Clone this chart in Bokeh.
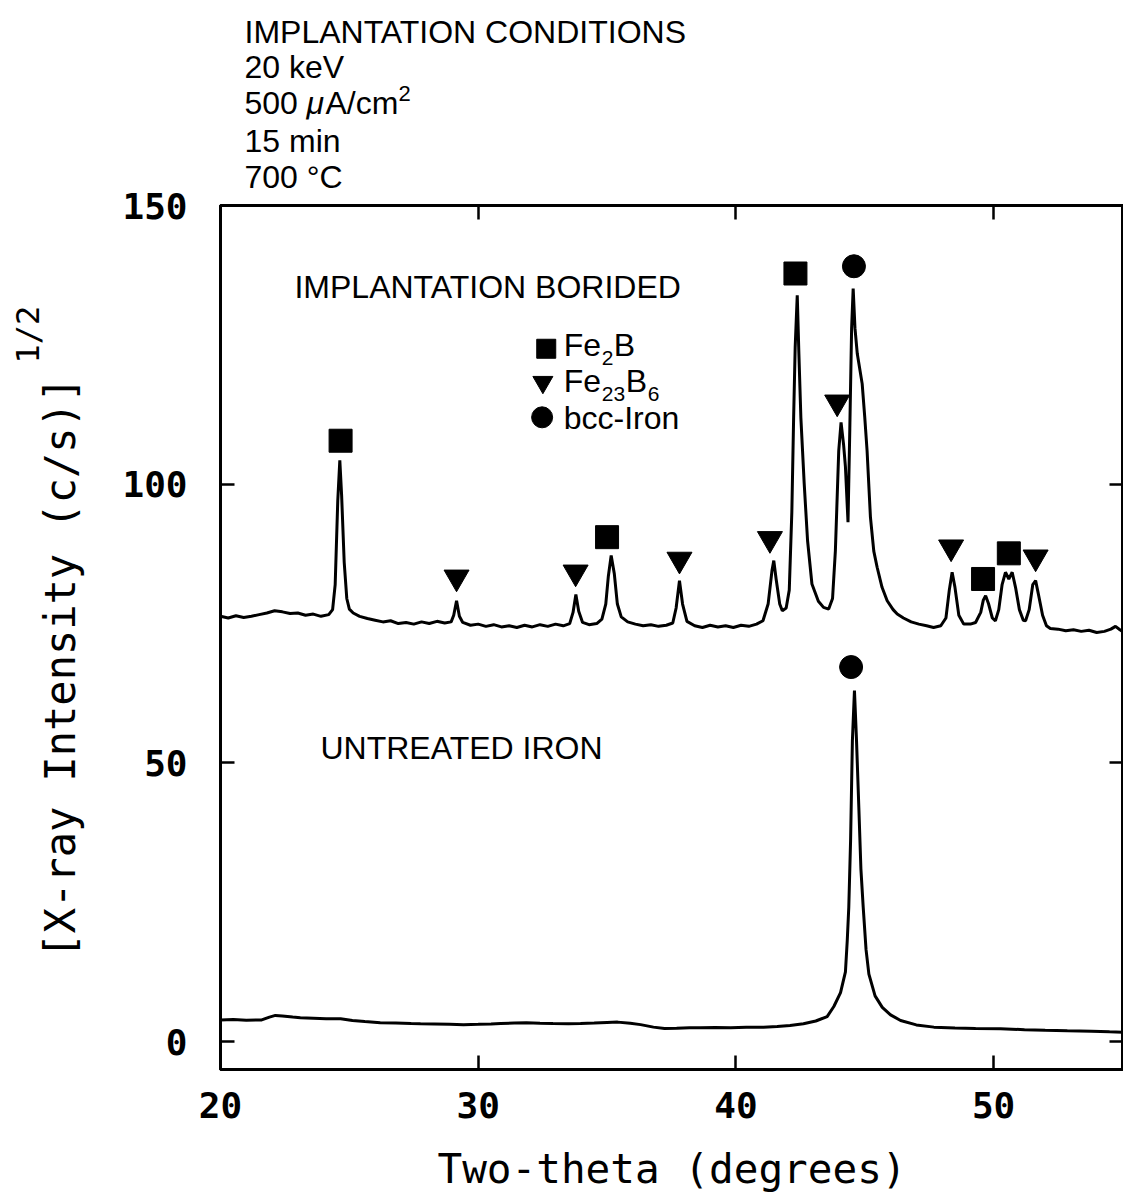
import math
from bokeh.plotting import figure
from bokeh.models import LinearAxis, FixedTicker, Label, Range1d
from bokeh.layouts import column, row
from bokeh.embed import file_html
from bokeh.resources import INLINE

# --- diffraction traces (two-theta in degrees, sqrt intensity) ---
borided_x = [20.0, 20.3, 20.6, 20.9, 21.2, 21.5, 21.8, 22.1, 22.4, 22.7, 23.0, 23.3, 23.6, 23.9, 24.2,
             24.35, 24.45, 24.55, 24.63, 24.7, 24.8, 24.9, 25.0, 25.15, 25.4, 25.7, 26.0, 26.3, 26.6,
             26.9, 27.2, 27.5, 27.8, 28.1, 28.4, 28.7, 28.95, 29.05, 29.16, 29.27, 29.4, 29.7, 30.0,
             30.3, 30.6, 30.9, 31.2, 31.5, 31.8, 32.1, 32.4, 32.7, 33.0, 33.3, 33.55, 33.68, 33.79,
             33.9, 34.05, 34.3, 34.6, 34.8, 34.95, 35.05, 35.16, 35.28, 35.4, 35.55, 35.8, 36.1, 36.4,
             36.7, 37.0, 37.3, 37.55, 37.68, 37.81, 37.93, 38.1, 38.4, 38.7, 39.0, 39.3, 39.6, 39.9,
             40.2, 40.5, 40.8, 41.05, 41.25, 41.4, 41.47, 41.56, 41.7, 41.8, 41.95, 42.07, 42.17,
             42.24, 42.3, 42.38, 42.44, 42.52, 42.65, 42.78, 42.95, 43.2, 43.4, 43.6, 43.75, 43.86,
             43.99, 44.08, 44.18, 44.25, 44.35, 44.42, 44.49, 44.55, 44.62, 44.71, 44.9, 45.0, 45.09,
             45.22, 45.35, 45.48, 45.67, 45.87, 46.1, 46.26, 46.5, 46.8, 47.1, 47.4, 47.67, 47.95,
             48.15, 48.28, 48.39, 48.5, 48.65, 48.84, 49.1, 49.3, 49.5, 49.6, 49.69, 49.8, 49.95,
             50.07, 50.2, 50.33, 50.46, 50.59, 50.72, 50.85, 51.0, 51.15, 51.24, 51.38, 51.52, 51.63,
             51.75, 51.9, 52.05, 52.2, 52.5, 52.8, 53.1, 53.4, 53.7, 54.0, 54.3, 54.55, 54.73, 54.9, 55.0]
borided_y = [76.3, 76.0, 76.4, 76.1, 76.3, 76.6, 76.9, 77.3, 77.1, 76.8, 76.9, 76.5, 76.7, 76.3, 76.6,
             77.5, 82.0, 97.0, 104.3, 98.0, 86.0, 79.5, 77.6, 76.9, 76.3, 75.9, 75.6, 75.3, 75.5,
             75.0, 75.2, 74.9, 75.3, 75.0, 75.4, 75.1, 75.3, 76.5, 79.1, 76.3, 75.2, 74.7, 74.9,
             74.5, 74.8, 74.4, 74.6, 74.3, 74.7, 74.4, 74.8, 74.5, 74.9, 74.6, 75.0, 77.0, 80.2,
             77.2, 75.2, 74.8, 75.0, 75.8, 78.5, 83.5, 87.2, 84.0, 78.5, 76.2, 75.3, 74.9, 74.6,
             74.8, 74.5, 74.7, 75.1, 77.8, 82.7, 78.5, 75.4, 74.6, 74.3, 74.7, 74.4, 74.6, 74.3,
             74.7, 74.5, 74.9, 75.5, 78.5, 84.5, 86.3, 83.0, 78.5, 77.3, 77.8, 81.0, 95.0,
             112.0, 124.6, 133.9, 124.0, 112.0, 100.1, 89.9, 82.1, 79.0, 77.9, 77.6, 79.5, 88.1,
             106.0, 111.1, 107.0, 103.1, 93.2, 110.0, 128.0, 135.1, 128.0, 123.4, 118.0, 112.0, 106.0,
             94.1, 88.0, 85.1, 81.5, 79.1, 77.5, 76.7, 76.0, 75.3, 74.9, 74.6, 74.3, 74.6,
             76.0, 81.0, 84.2, 81.5, 76.5, 74.9, 74.9, 75.2, 77.0, 79.2, 80.0, 78.6, 76.0,
             75.5, 77.5, 82.0, 84.2, 83.0, 84.2, 81.5, 77.5, 75.6, 75.5, 77.5, 82.0, 82.7,
             80.0, 76.5, 74.6, 74.1, 74.0, 73.7, 73.9, 73.6, 73.8, 73.4, 73.6, 74.0, 74.5, 73.9, 73.6]

untreated_x = [20.0, 20.5, 21.0, 21.6, 21.9, 22.13, 22.4, 22.8, 23.1, 23.6, 24.1, 24.66, 25.12, 25.6,
               26.2, 26.8, 27.4, 27.76, 28.3, 28.9, 29.43, 30.0, 30.5, 30.87, 31.4, 31.87, 32.4, 32.9,
               33.5, 33.97, 34.5, 35.0, 35.41, 35.9, 36.3, 36.8, 37.23, 37.7, 38.2, 38.63, 39.2, 39.8,
               40.4, 41.07, 41.6, 42.1, 42.62, 43.1, 43.54, 43.8, 44.06, 44.25, 44.32, 44.38, 44.45,
               44.52, 44.6, 44.68, 44.77, 44.85, 44.94, 45.05, 45.16, 45.4, 45.68, 46.0, 46.39, 47.0,
               47.68, 48.5, 49.3, 50.27, 51.2, 52.0, 52.86, 53.8, 54.5, 55.0]
untreated_y = [3.9, 3.95, 3.85, 3.9, 4.4, 4.7, 4.6, 4.4, 4.3, 4.2, 4.1, 4.1, 3.8, 3.6,
               3.4, 3.35, 3.25, 3.2, 3.15, 3.1, 3.05, 3.1, 3.15, 3.25, 3.35, 3.4, 3.3, 3.25,
               3.2, 3.25, 3.35, 3.45, 3.5, 3.3, 3.05, 2.6, 2.35, 2.4, 2.5, 2.5, 2.55, 2.5,
               2.6, 2.6, 2.7, 2.9, 3.2, 3.7, 4.5, 6.3, 8.8, 12.5, 18.1, 24.1, 36.1,
               54.0, 63.0, 54.0, 42.0, 31.0, 24.1, 16.5, 12.1, 8.2, 6.15, 4.8, 3.8, 3.0,
               2.6, 2.45, 2.35, 2.3, 2.15, 2.05, 1.95, 1.85, 1.75, 1.7]

# --- phase identification markers above the reflections ---
fe2b_x = [24.66, 35.0, 42.31, 49.59, 50.59]
fe2b_y = [107.8, 90.5, 137.8, 83.0, 87.6]
fe23b6_x = [29.16, 33.78, 37.81, 41.32, 43.93, 48.35, 51.63]
fe23b6_y = [83.3, 84.2, 86.5, 90.2, 114.7, 88.7, 86.9]
bcc_x = [44.58, 44.47]
bcc_y = [139.1, 67.2]

x_ticks = [20, 30, 40, 50]
y_ticks = [0, 50, 100, 150]

conditions = ["IMPLANTATION CONDITIONS", "20 keV", "500 ", "15 min", "700 \u00b0C"]

SANS = "Liberation Sans"
MONO = "DejaVu Sans Mono"
TXT = "32px"
SUB = "21px"

PAGE_W, PAGE_H = 1123, 1201
SIDE_W = 100          # rotated y title
TICK_W = 92           # y tick numbers
RIGHT_W = PAGE_W - SIDE_W - TICK_W
HEAD_H = 203          # implantation conditions
MAIN_H = PAGE_H - HEAD_H
FRAME_TOP = 205
FRAME_BOTTOM_PAD = 132

y_range = Range1d(-5, 150)


def blank(width, height, xr, yr, **kw):
    opts = dict(min_border=0, min_border_left=0, min_border_right=0,
                min_border_top=0, min_border_bottom=0,
                x_axis_location=None, y_axis_location=None)
    opts.update(kw)
    f = figure(width=width, height=height, x_range=xr, y_range=yr, title=None,
               output_backend="svg", toolbar_location=None, frame_align=False, **opts)
    f.grid.visible = False
    f.outline_line_color = None
    f.background_fill_color = "white"
    f.border_fill_color = "white"
    return f


def label(fig, x, y, text, size=TXT, style="normal", dx=0, dy=0, font=SANS, angle=0,
          align="left", baseline="middle"):
    fig.add_layout(Label(x=x, y=y, text=text, x_offset=dx, y_offset=dy, angle=angle,
                         text_font=font, text_font_size=size, text_font_style=style,
                         text_color="black", text_align=align, text_baseline=baseline))


def style_axis(ax, ticks, labels=True):
    ax.ticker = FixedTicker(ticks=ticks)
    ax.axis_line_color = "black"
    ax.axis_line_width = 3
    ax.major_tick_line_color = "black"
    ax.major_tick_line_width = 2.5
    ax.major_tick_in = 14
    ax.major_tick_out = 0
    ax.minor_tick_line_color = None
    if labels:
        ax.major_label_text_font = MONO
        ax.major_label_text_font_style = "bold"
        ax.major_label_text_font_size = "36px"
        ax.major_label_text_color = "black"
    else:
        ax.major_label_text_font_size = "0px"
        ax.major_label_standoff = 0


# ---------------- side strip: rotated y-axis title ----------------
side = blank(SIDE_W, PAGE_H, Range1d(0, SIDE_W), Range1d(PAGE_H, 0))
label(side, 60, 958, "[X-ray Intensity (c/s)]", size="42px", font=MONO, angle=math.pi / 2)
label(side, 27, 363, "1/2", size="32px", font=MONO, angle=math.pi / 2)

# ---------------- y tick numbers, sharing the chart's y range ----------------
ticks = blank(TICK_W, PAGE_H, Range1d(0, 1), y_range, y_axis_location="left",
              min_border_left=TICK_W - 2, min_border_top=FRAME_TOP,
              min_border_bottom=FRAME_BOTTOM_PAD)
ty = ticks.yaxis[0]
style_axis(ty, y_ticks)
ty.axis_line_color = None
ty.major_tick_line_color = None
ty.major_tick_in = 0
ty.major_label_standoff = 3

# ---------------- header: implantation conditions ----------------
head = blank(RIGHT_W, HEAD_H, Range1d(SIDE_W + TICK_W, PAGE_W), Range1d(HEAD_H, 0))
hx = 244
rows_y = [31, 66, 102, 140, 176]
label(head, hx, rows_y[0], conditions[0])
label(head, hx, rows_y[1], conditions[1])
label(head, hx, rows_y[2], conditions[2])
label(head, hx, rows_y[2], "\u03bc", style="italic", dx=62)
label(head, hx, rows_y[2], "A/cm", dx=81)
label(head, hx, rows_y[2], "2", size="22px", dx=154, dy=9)
label(head, hx, rows_y[3], conditions[3])
label(head, hx, rows_y[4], conditions[4])

# ---------------- main chart ----------------
p = figure(width=RIGHT_W, height=MAIN_H, x_range=(20, 55.04), y_range=y_range,
           output_backend="svg", toolbar_location=None,
           min_border_left=220 - SIDE_W - TICK_W, min_border_right=0,
           min_border_top=FRAME_TOP - HEAD_H, min_border_bottom=FRAME_BOTTOM_PAD)
p.background_fill_color = "white"
p.border_fill_color = "white"
p.grid.visible = False
p.outline_line_color = "black"
p.outline_line_width = 3

style_axis(p.xaxis[0], x_ticks)
style_axis(p.yaxis[0], y_ticks, labels=False)
p.xaxis[0].major_label_standoff = 22
p.xaxis[0].axis_label = "Two-theta (degrees)"
p.xaxis[0].axis_label_text_font = MONO
p.xaxis[0].axis_label_text_font_size = "41px"
p.xaxis[0].axis_label_text_font_style = "normal"
p.xaxis[0].axis_label_text_color = "black"
p.xaxis[0].axis_label_standoff = 24

top_ax = LinearAxis()
style_axis(top_ax, x_ticks, labels=False)
p.add_layout(top_ax, "above")
right_ax = LinearAxis()
style_axis(right_ax, y_ticks, labels=False)
p.add_layout(right_ax, "right")

# traces
p.line(borided_x, borided_y, line_color="black", line_width=3)
p.line(untreated_x, untreated_y, line_color="black", line_width=3)

# phase markers
p.scatter(fe2b_x, fe2b_y, marker="square", size=23, color="black")
p.scatter(fe23b6_x, fe23b6_y, marker="inverted_triangle", size=25, color="black")
p.scatter(bcc_x, bcc_y, marker="circle", size=23, color="black")

# panel captions
label(p, 22.87, 135.3, "IMPLANTATION BORIDED")
label(p, 23.88, 52.6, "UNTREATED IRON")

# key for the phase markers
p.scatter([32.64], [124.3], marker="square", size=19, color="black")
p.scatter([32.51], [118.3], marker="inverted_triangle", size=20, color="black")
p.scatter([32.48], [112.0], marker="circle", size=21, color="black")
kx = 33.32
label(p, kx, 124.9, "Fe")
label(p, kx, 124.9, "2", size=SUB, dx=38, dy=-13)
label(p, kx, 124.9, "B", dx=50)
label(p, kx, 118.6, "Fe")
label(p, kx, 118.6, "23", size=SUB, dx=38, dy=-13)
label(p, kx, 118.6, "B", dx=62)
label(p, kx, 118.6, "6", size=SUB, dx=84, dy=-13)
label(p, kx, 111.8, "bcc-Iron")

layout = row(side, ticks, column(head, p, spacing=0), spacing=0)
open("out.html", "w").write(file_html(layout, INLINE))
